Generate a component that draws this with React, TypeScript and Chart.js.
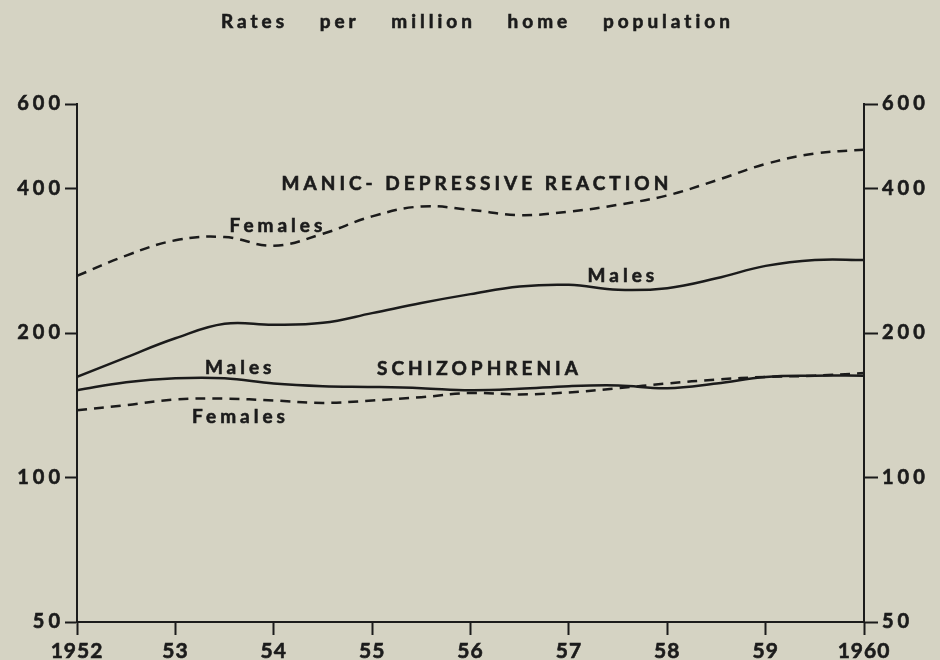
import React, { useEffect, useRef } from "react";
import { Chart, registerables } from "chart.js";

Chart.register(...registerables);

// ---- data ----
const years = [1952, 1952.5, 1953, 1953.5, 1954, 1954.5, 1955, 1955.5, 1956, 1956.5, 1957, 1957.5, 1958, 1958.5, 1959, 1959.5, 1960];
const manicMales = [162, 178, 195, 209, 208, 210, 220, 231, 241, 250, 252, 246, 248, 260, 276, 284, 284];
const manicFemales = [263, 290, 312, 317, 304, 322, 350, 367, 361, 352, 358, 370, 387, 416, 450, 473, 482];
const schizMales = [152, 158, 161, 161, 157, 155, 154.4, 153.5, 152, 153, 155, 155.5, 153.5, 157, 162, 163, 163];
const schizFemales = [138, 141.5, 145.4, 146, 144.7, 143, 144.7, 147, 150, 149, 150.4, 153.5, 157, 160, 162, 163, 165];

const yTicks = [50, 100, 200, 400, 600];
const xTicks = [1952, 1953, 1954, 1955, 1956, 1957, 1958, 1959, 1960];
const xTickLabels = ["1952", "53", "54", "55", "56", "57", "58", "59", "1960"];

const titleText = "Rates per million home population";

const annotationTexts = ["MANIC- DEPRESSIVE REACTION", "Females", "Males", "Males", "SCHIZOPHRENIA", "Females"];
const annotationX = [1954.08, 1953.55, 1957.19, 1953.3, 1955.05, 1953.17];
const annotationY = [410, 335, 263, 169, 168, 133.5];

// ---- style ----
const INK = "#1b1b1b";
const PAPER = "#d5d3c3";
const FONT = "Lato";

const toPoints = (vals: number[]) => vals.map((v, i) => ({ x: years[i], y: v }));

const textPlugin = {
  id: "texts",
  beforeDraw(chart: any) {
    // spacing used by the y-axis labels (drawn before datasets)
    chart.ctx.letterSpacing = "4px";
  },
  afterDatasetsDraw(chart: any) {
    const { ctx, scales } = chart;
    const x = scales.x;
    const y = scales.y;
    ctx.save();
    ctx.fillStyle = INK;
    ctx.strokeStyle = INK;
    ctx.lineWidth = 0.6;
    ctx.textBaseline = "middle";
    ctx.textAlign = "left";
    ctx.font = `bold 19px ${FONT}`;
    ctx.letterSpacing = "4px";
    annotationTexts.forEach((t, i) => {
      const px = x.getPixelForValue(annotationX[i]);
      const py = y.getPixelForValue(annotationY[i]);
      ctx.fillText(t, px, py);
      ctx.strokeText(t, px, py);
    });
    // title
    ctx.font = `bold 19px ${FONT}`;
    ctx.letterSpacing = "4px";
    (ctx as any).wordSpacing = "23px";
    ctx.fillText(titleText, 221, 22);
    ctx.strokeText(titleText, 221, 22);
    (ctx as any).wordSpacing = "0px";
    ctx.restore();
    // spacing for the x-axis labels (drawn after datasets, z = 1)
    ctx.letterSpacing = "1px";
  },
  afterDraw(chart: any) {
    chart.ctx.letterSpacing = "0px";
  },
};

export default function App() {
  const ref = useRef<HTMLCanvasElement | null>(null);

  useEffect(() => {
    if (!ref.current) return;
    const yTickFont = { family: FONT, size: 20, weight: "bold" as const };
    const axisGrid = {
      display: true,
      drawOnChartArea: false,
      drawTicks: true,
      tickLength: 12,
      tickWidth: 2,
      tickColor: INK,
      color: INK,
    };
    const lineBase = {
      borderColor: INK,
      borderWidth: 2.5,
      pointRadius: 0,
      tension: 0.4,
      fill: false,
    };
    const chart = new Chart(ref.current, {
      type: "line",
      data: {
        datasets: [
          { ...lineBase, label: "Manic-depressive males", data: toPoints(manicMales) },
          { ...lineBase, label: "Schizophrenia males", data: toPoints(schizMales) },
          { ...lineBase, label: "Manic-depressive females", data: toPoints(manicFemales), borderDash: [10, 7] },
          { ...lineBase, label: "Schizophrenia females", data: toPoints(schizFemales), borderDash: [10, 7] },
        ],
      },
      options: {
        animation: false,
        responsive: false,
        devicePixelRatio: 1,
        layout: { padding: { top: 104, left: 0, right: 0, bottom: 0 } },
        plugins: {
          legend: { display: false },
          tooltip: { enabled: false },
          title: { display: false },
        },
        scales: {
          x: {
            type: "linear",
            min: 1952,
            max: 1960,
            afterBuildTicks: (axis: any) => {
              axis.ticks = xTicks.map((v) => ({ value: v }));
            },
            afterFit: (axis: any) => {
              axis.height = 38;
            },
            ticks: {
              z: 1,
              color: INK,
              font: { family: FONT, size: 21, weight: "bold" },
              textStrokeColor: INK,
              textStrokeWidth: 0.6,
              padding: 4,
              maxRotation: 0,
              autoSkip: false,
              callback: (v: any) => xTickLabels[xTicks.indexOf(Number(v))] ?? "",
            },
            grid: { ...axisGrid, tickLength: 13 },
            border: { display: true, color: INK, width: 2 },
          },
          y: {
            type: "logarithmic",
            position: "left",
            min: 50,
            max: 600,
            afterBuildTicks: (axis: any) => {
              axis.ticks = yTicks.map((v) => ({ value: v }));
            },
            afterFit: (axis: any) => {
              axis.width = 77;
            },
            ticks: {
              color: INK,
              font: yTickFont,
              textStrokeColor: INK,
              textStrokeWidth: 0.6,
              padding: 1,
              autoSkip: false,
              callback: (v: any) => String(v),
            },
            grid: axisGrid,
            border: { display: true, color: INK, width: 2 },
          },
          y2: {
            type: "logarithmic",
            position: "right",
            min: 50,
            max: 600,
            afterBuildTicks: (axis: any) => {
              axis.ticks = yTicks.map((v) => ({ value: v }));
            },
            afterFit: (axis: any) => {
              axis.width = 76;
            },
            ticks: {
              color: INK,
              font: yTickFont,
              textStrokeColor: INK,
              textStrokeWidth: 0.6,
              padding: 4,
              autoSkip: false,
              callback: (v: any) => String(v),
            },
            grid: { ...axisGrid, tickLength: 14 },
            border: { display: true, color: INK, width: 2 },
          },
        },
      },
      plugins: [textPlugin],
    });
    return () => chart.destroy();
  }, []);

  return (
    <div style={{ position: "fixed", left: 0, top: 0, width: 940, height: 660, background: PAPER }}>
      <canvas ref={ref} width={940} height={660} style={{ display: "block" }} />
    </div>
  );
}
